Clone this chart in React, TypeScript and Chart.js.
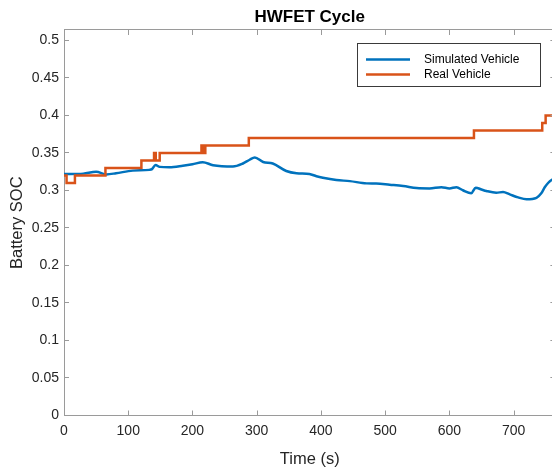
import React, { useEffect, useRef } from 'react';
import { Chart, registerables } from 'chart.js';

Chart.register(...registerables);

// ---- data ----
const simTime = [0, 10, 30, 50, 66, 81, 107, 133, 137, 142.5, 149, 164, 185, 200, 216, 232, 263, 278.5, 289, 297, 310, 325, 346, 362, 382, 393, 403, 424, 445, 471, 486, 507, 528, 549, 569, 587.5, 600, 611, 621, 634, 641, 650, 657.6, 673, 683.5, 694, 707, 720, 735.5, 743, 748.4, 753.6, 759, 765];
const simSoc = [0.322, 0.322, 0.3225, 0.325, 0.3215, 0.323, 0.3265, 0.3275, 0.3285, 0.334, 0.3315, 0.331, 0.333, 0.335, 0.3378, 0.3338, 0.332, 0.336, 0.341, 0.344, 0.338, 0.336, 0.326, 0.323, 0.322, 0.319, 0.317, 0.314, 0.3125, 0.3095, 0.3093, 0.3077, 0.306, 0.3033, 0.3028, 0.3043, 0.3028, 0.3043, 0.3003, 0.2963, 0.3038, 0.3013, 0.2993, 0.297, 0.298, 0.2948, 0.2908, 0.2883, 0.2903, 0.2963, 0.3043, 0.31, 0.314, 0.316];

const realTime = [0, 4, 17, 64.5, 120.5, 140.2, 142.8, 149, 214, 216.5, 220, 287.7, 638.2, 744.5, 749.8, 765];
const realSoc = [0.32, 0.31, 0.32, 0.33, 0.34, 0.35, 0.34, 0.35, 0.36, 0.35, 0.36, 0.37, 0.38, 0.39, 0.4, 0.4];

const xTicks = [0, 100, 200, 300, 400, 500, 600, 700];
const yTicks = [0, 0.05, 0.1, 0.15, 0.2, 0.25, 0.3, 0.35, 0.4, 0.45, 0.5];

const seriesNames = ['Simulated Vehicle', 'Real Vehicle'];
const seriesColors = ['#0072BD', '#D95319'];
const chartTitle = 'HWFET Cycle';
const xLabel = 'Time (s)';
const yLabel = 'Battery SOC';

const FONT = "'Liberation Sans', Arial, sans-serif";
const AXIS_COLOR = '#9a9a9a';
const TEXT_COLOR = '#262626';

const decorPlugin = {
  id: 'matlabDecor',
  afterDraw(chart: any) {
    const { ctx, chartArea: a, scales } = chart;
    const xs = scales.x;
    const ys = scales.y;
    ctx.save();
    // top border
    ctx.strokeStyle = AXIS_COLOR;
    ctx.lineWidth = 1;
    ctx.beginPath();
    ctx.moveTo(a.left, Math.round(a.top) - 0.5);
    ctx.lineTo(a.right, Math.round(a.top) - 0.5);
    ctx.moveTo(Math.round(a.right) - 0.5, a.top);
    ctx.lineTo(Math.round(a.right) - 0.5, a.bottom);
    // inward ticks
    const tl = 5;
    xTicks.forEach((v) => {
      const px = Math.round(xs.getPixelForValue(v)) + 0.5;
      ctx.moveTo(px, a.bottom);
      ctx.lineTo(px, a.bottom - tl);
      ctx.moveTo(px, a.top);
      ctx.lineTo(px, a.top + tl);
    });
    yTicks.forEach((v) => {
      const py = Math.round(ys.getPixelForValue(v)) - 0.5;
      ctx.moveTo(a.left, py);
      ctx.lineTo(a.left + tl, py);
      ctx.moveTo(a.right, py);
      ctx.lineTo(a.right - tl, py);
    });
    ctx.stroke();

    // title
    ctx.fillStyle = '#000';
    ctx.font = `bold 17px ${FONT}`;
    ctx.textAlign = 'center';
    ctx.textBaseline = 'alphabetic';
    ctx.fillText(chartTitle, (a.left + a.right) / 2, 22);

    // legend
    const bx = 357.5, by = 43.5, bw = 183, bh = 43;
    ctx.fillStyle = '#fff';
    ctx.fillRect(bx, by, bw, bh);
    ctx.strokeStyle = '#3a3a3a';
    ctx.lineWidth = 1;
    ctx.strokeRect(bx, by, bw, bh);
    const rows = [59.5, 74.5];
    ctx.font = `12px ${FONT}`;
    ctx.textAlign = 'left';
    ctx.textBaseline = 'middle';
    seriesNames.forEach((name, i) => {
      ctx.strokeStyle = seriesColors[i];
      ctx.lineWidth = 2.5;
      ctx.beginPath();
      ctx.moveTo(366, rows[i]);
      ctx.lineTo(410, rows[i]);
      ctx.stroke();
      ctx.fillStyle = '#000';
      ctx.fillText(name, 424, rows[i]);
    });
    ctx.restore();
  },
};

export default function App() {
  const ref = useRef<HTMLCanvasElement | null>(null);
  useEffect(() => {
    if (!ref.current) return;
    const chart = new Chart(ref.current, {
      type: 'line',
      data: {
        datasets: [
          {
            label: seriesNames[0],
            data: simTime.map((t, i) => ({ x: t, y: simSoc[i] })),
            borderColor: seriesColors[0],
            borderWidth: 2.5,
            pointRadius: 0,
            cubicInterpolationMode: 'monotone',
            order: 2,
          },
          {
            label: seriesNames[1],
            data: realTime.map((t, i) => ({ x: t, y: realSoc[i] })),
            borderColor: seriesColors[1],
            borderWidth: 2.5,
            pointRadius: 0,
            stepped: true,
            order: 1,
          },
        ],
      },
      options: {
        animation: false,
        responsive: false,
        events: [],
        layout: { padding: { left: 0, top: 30, right: 10.6, bottom: 0 } },
        plugins: {
          legend: { display: false },
          title: { display: false },
          tooltip: { enabled: false },
        },
        scales: {
          x: {
            type: 'linear',
            min: 0,
            max: 765,
            afterBuildTicks: (s: any) => {
              s.ticks = xTicks.map((v) => ({ value: v }));
            },
            afterFit: (s: any) => {
              s.height = 51.5;
              s.paddingLeft = 0;
              s.paddingRight = 0;
            },
            grid: { display: false, drawTicks: false },
            border: { display: true, color: AXIS_COLOR, width: 1 },
            ticks: {
              font: { family: FONT, size: 14 },
              color: TEXT_COLOR,
              padding: 7,
              maxRotation: 0,
              autoSkip: false,
              callback: (v: any) => String(v),
            },
            title: {
              display: true,
              text: xLabel,
              font: { family: FONT, size: 16.5 },
              color: TEXT_COLOR,
              padding: { top: 0, bottom: -2 },
            },
          },
          y: {
            type: 'linear',
            min: 0,
            max: 0.514,
            afterBuildTicks: (s: any) => {
              s.ticks = yTicks.map((v) => ({ value: v }));
            },
            afterFit: (s: any) => {
              s.width = 64;
              s.paddingTop = 0;
              s.paddingBottom = 0;
            },
            grid: { display: false, drawTicks: false },
            border: { display: true, color: AXIS_COLOR, width: 1 },
            ticks: {
              font: { family: FONT, size: 14 },
              color: TEXT_COLOR,
              padding: 5,
              autoSkip: false,
              callback: (v: any) => String(Number(Number(v).toFixed(2))),
            },
            title: {
              display: true,
              text: yLabel,
              font: { family: FONT, size: 16.5 },
              color: TEXT_COLOR,
              padding: { top: 8, bottom: 0 },
            },
          },
        },
      },
      plugins: [decorPlugin],
    } as any);
    return () => chart.destroy();
  }, []);

  return (
    <div
      style={{
        position: 'fixed',
        left: 0,
        top: 0,
        width: 552,
        height: 467,
        overflow: 'hidden',
        background: '#fff',
      }}
    >
      <canvas ref={ref} width={566} height={467} style={{ width: 566, height: 467, display: 'block' }} />
    </div>
  );
}
